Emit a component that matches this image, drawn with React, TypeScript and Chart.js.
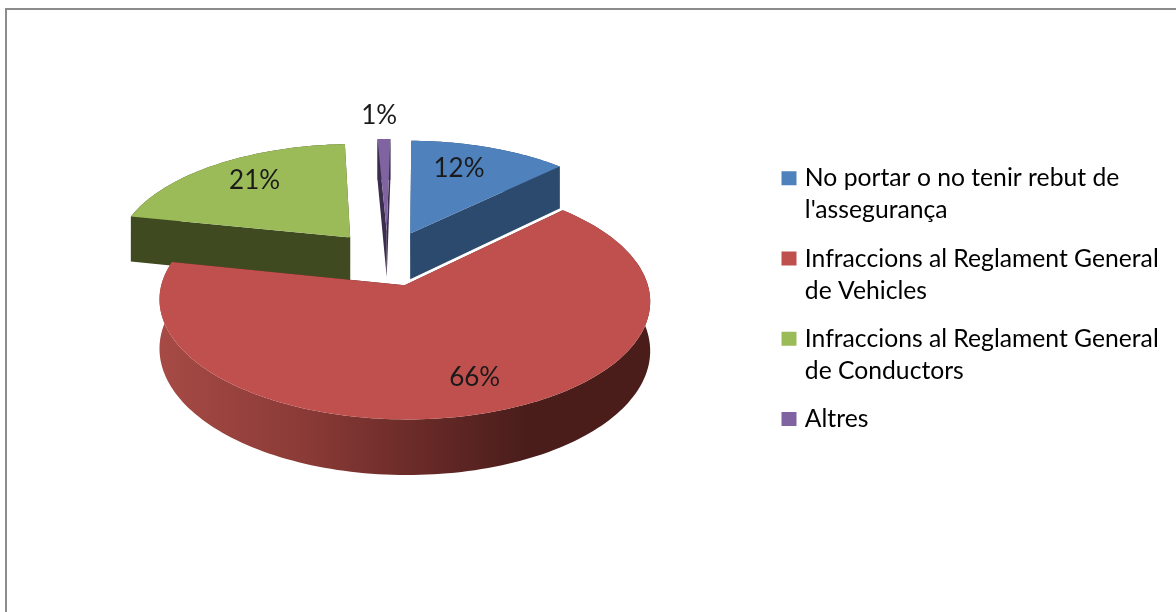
import React, { useEffect, useRef } from "react";
import { Chart, PieController, ArcElement, Legend } from "chart.js";

const categories = [
  ["No portar o no tenir rebut de", "l'assegurança"],
  ["Infraccions al Reglament General", "de Vehicles"],
  ["Infraccions al Reglament General", "de Conductors"],
  ["Altres"],
];
const percentages = [12.4, 65.6, 21, 1];
const topColors = ["#4f81bd", "#c0504d", "#9bbb59", "#8064a2"];
const wallColors = ["#2c4a6e", "#4a1d1a", "#404a21", "#3b2d4d"];
const labelDistance = [0.72, 0.75, 0.76, 1.3];
const labelNudge = [[-10, -1], [12, 0], [8, 0], [-4, 0]];
const paintOrder = [3, 0, 2, 1];

const FONT = "Lato";
const CX = 387.5, CY = 258, RX = 236, RY = 110, K = 0.125, DEPTH = 47, EXPLODE = 0.25;

function project(u: number, v: number, z = 0) {
  const d = 1 - K * v;
  return { x: CX + (RX * u) / d, y: CY + (RY * v) / d + (z * DEPTH) / d };
}

class Arc3D extends ArcElement {
  static id = "arc3d";
  static defaults = ArcElement.defaults;
  draw(ctx: CanvasRenderingContext2D) {
    const a0 = (this as any).startAngle + Math.PI / 2;
    const a1 = (this as any).endAngle + Math.PI / 2;
    const mid = (a0 + a1) / 2;
    const ou = EXPLODE * Math.sin(mid), ov = -EXPLODE * Math.cos(mid);
    const opts = (this as any).options;
    const idx = topColors.indexOf(opts.backgroundColor);
    const steps = Math.max(4, Math.ceil((a1 - a0) * 40));
    const rim: [number, number][] = [];
    for (let i = 0; i <= steps; i++) {
      const t = a0 + ((a1 - a0) * i) / steps;
      rim.push([ou + Math.sin(t), ov - Math.cos(t)]);
    }
    const poly = (pts: [number, number][], z: number, start = true) => {
      pts.forEach((r, i) => {
        const p = project(r[0], r[1], z);
        if (i === 0 && start) ctx.moveTo(p.x, p.y);
        else ctx.lineTo(p.x, p.y);
      });
    };
    const apex: [number, number] = [ou, ov];
    ctx.save();
    const wall = (pts: [number, number][], fill: any) => {
      ctx.beginPath();
      poly(pts, 0);
      poly([...pts].reverse(), 1, false);
      ctx.closePath();
      ctx.fillStyle = fill;
      ctx.fill();
    };
    wall([apex, rim[0]], wallColors[idx]);
    wall([apex, rim[steps]], wallColors[idx]);
    let fill: any = wallColors[idx];
    if (idx === 1) {
      const g = ctx.createLinearGradient(162, 0, 525, 0);
      g.addColorStop(0, "#a64a45");
      g.addColorStop(0.4, "#8a3a36");
      g.addColorStop(0.7, "#6a2b28");
      g.addColorStop(1, "#4a1d1b");
      fill = g;
    }
    wall(rim, fill);
    ctx.beginPath();
    poly([apex, ...rim], 0);
    ctx.closePath();
    ctx.fillStyle = opts.backgroundColor;
    ctx.fill();
    ctx.restore();
  }
}

class Pie3D extends PieController {
  static id = "pie3d";
  static defaults = { ...PieController.defaults, dataElementType: "arc3d" };
  static overrides = PieController.overrides;
  draw() {
    const ctx = this.chart.ctx;
    const arcs = this.getMeta().data as any[];
    paintOrder.forEach((i) => arcs[i].draw(ctx));
  }
}

const frameAndLabels = {
  id: "frameAndLabels",
  afterLayout(chart: any) {
    const lg = chart.legend;
    const shift = 785.5 - 16 - lg.left;
    lg.left += shift;
    lg.right += shift;
  },
  beforeDraw(chart: any) {
    const ctx = chart.ctx;
    ctx.save();
    ctx.fillStyle = "#8c8c8c";
    ctx.fillRect(5, 8, chart.width - 5, 2);
    ctx.fillRect(5, 8, 2, chart.height - 8);
    ctx.restore();
  },
  afterDraw(chart: any) {
    const ctx = chart.ctx;
    const arcs = chart.getDatasetMeta(0).data;
    ctx.save();
    ctx.font = `26px ${FONT}`;
    ctx.fillStyle = "#1a1a1a";
    ctx.textAlign = "center";
    ctx.textBaseline = "middle";
    arcs.forEach((arc: any, i: number) => {
      const mid = (arc.startAngle + arc.endAngle) / 2 + Math.PI / 2;
      const f = EXPLODE + labelDistance[i];
      const p = project(f * Math.sin(mid), -f * Math.cos(mid));
      ctx.fillText(`${Math.round(percentages[i])}%`, p.x + labelNudge[i][0], p.y + labelNudge[i][1]);
    });
    ctx.restore();
  },
};

Chart.register(Pie3D as any, Arc3D as any, Legend);

export default function App() {
  const ref = useRef<HTMLCanvasElement>(null);
  useEffect(() => {
    document.body.style.margin = "0";
    const chart = new Chart(ref.current!, {
      type: "pie3d" as any,
      plugins: [frameAndLabels],
      data: {
        labels: categories as any,
        datasets: [{ data: percentages, backgroundColor: topColors, borderWidth: 0 }],
      },
      options: {
        animation: false,
        responsive: false,
        rotation: 1,
        layout: { padding: { top: 150 } },
        plugins: {
          tooltip: { enabled: false },
          legend: {
            display: true,
            position: "right",
            align: "start",
            labels: {
              boxWidth: 7,
              boxHeight: 6,
              padding: 16,
              color: "#262626",
              font: { family: FONT, size: 24.7, lineHeight: 1.3 },
              generateLabels: () =>
                categories.map((text, i) => ({
                  text: text as any,
                  fillStyle: topColors[i],
                  strokeStyle: topColors[i],
                  lineWidth: 8,
                  hidden: false,
                  index: i,
                })),
            },
          },
        },
      } as any,
    });
    return () => chart.destroy();
  }, []);
  return <canvas ref={ref} width={1176} height={612} style={{ display: "block" }} />;
}
